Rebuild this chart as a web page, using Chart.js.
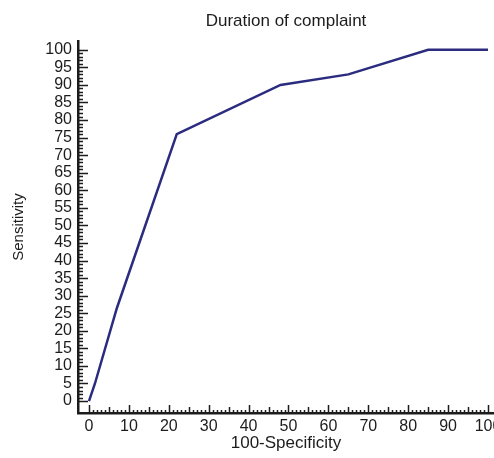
<!DOCTYPE html>
<html>
<head>
<meta charset="utf-8">
<script src="https://cdn.jsdelivr.net/npm/chart.js@4.4.1/dist/chart.umd.min.js"></script>
<style>
html,body{margin:0;padding:0;background:#fff;overflow:hidden;}
#wrap{width:576px;height:458px;}
</style>
</head>
<body>
<div id="wrap"><canvas id="rocChart" width="576" height="458"></canvas></div>
<script>
'use strict';
// ROC curve points
const specificity=[0,1.5,7,22,48,65,85,100];
const sensitivity=[0,5,26.5,76,90,93,100,100];
const xTickLabels=[0,10,20,30,40,50,60,70,80,90,100];
const yTickLabels=[0,5,10,15,20,25,30,35,40,45,50,55,60,65,70,75,80,85,90,95,100];

const fontName="'Liberation Sans', Arial, sans-serif";
const inkColor='#1c1c1c';

// small tick marks every unit, longer on the labelled values
const minorTicks={
  id:'minorTicks',
  afterDraw(chart){
    const ctx=chart.ctx;
    const xs=chart.scales.x;
    const ys=chart.scales.y;
    const area=chart.chartArea;
    ctx.save();
    ctx.strokeStyle=inkColor;
    ctx.lineWidth=1.5;
    ctx.beginPath();
    for(let v=0;v<=100;v++){
      const py=Math.round(ys.getPixelForValue(v))+0.5;
      const ly=v%5===0?10:5;
      ctx.moveTo(area.left,py);
      ctx.lineTo(area.left+ly,py);
      const px=Math.round(xs.getPixelForValue(v))+0.5;
      const lx=v%10===0?8:(v%5===0?6:3);
      ctx.moveTo(px,area.bottom);
      ctx.lineTo(px,area.bottom-lx);
    }
    ctx.stroke();
    ctx.restore();
  }
};

const points=specificity.map((x,i)=>({x:x,y:sensitivity[i]}));

const ctx=document.getElementById('rocChart').getContext('2d');
const chart=new Chart(ctx,{
  type:'scatter',
  data:{
    datasets:[{
      data:points,
      showLine:true,
      borderColor:'#2b2b80',
      borderWidth:2.5,
      pointRadius:0,
      fill:false,
      tension:0
    }]
  },
  options:{
    responsive:false,
    animation:false,
    layout:{padding:{left:0,right:82,top:0,bottom:0}},
    plugins:{
      legend:{display:false},
      tooltip:{enabled:false},
      title:{
        display:true,
        fullSize:false,
        text:'Duration of complaint',
        color:inkColor,
        font:{family:fontName,size:17,weight:'normal'},
        padding:{top:11,bottom:9.6}
      }
    },
    scales:{
      x:{
        type:'linear',
        min:-2.75,
        max:101.5,
        grid:{display:false,drawTicks:false},
        border:{display:true,color:inkColor,width:2.5},
        afterBuildTicks(scale){
          scale.ticks=xTickLabels.map(v=>({value:v}));
        },
        afterFit(scale){
          scale.height=45;
        },
        ticks:{
          autoSkip:false,
          maxRotation:0,
          padding:4,
          color:inkColor,
          font:{family:fontName,size:16}
        },
        title:{
          display:true,
          text:'100-Specificity',
          color:inkColor,
          font:{family:fontName,size:17},
          padding:{top:0,bottom:4}
        }
      },
      y:{
        type:'linear',
        min:-3.4,
        max:102.5,
        grid:{display:false,drawTicks:false},
        border:{display:true,color:inkColor,width:2.5},
        afterBuildTicks(scale){
          scale.ticks=yTickLabels.map(v=>({value:v}));
        },
        afterFit(scale){
          scale.width=78;
        },
        ticks:{
          autoSkip:false,
          padding:6,
          color:inkColor,
          font:{family:fontName,size:16}
        },
        title:{
          display:true,
          text:'Sensitivity',
          color:inkColor,
          font:{family:fontName,size:15},
          padding:{top:10,bottom:0}
        }
      }
    }
  },
  plugins:[minorTicks]
});
</script>
</body>
</html>
